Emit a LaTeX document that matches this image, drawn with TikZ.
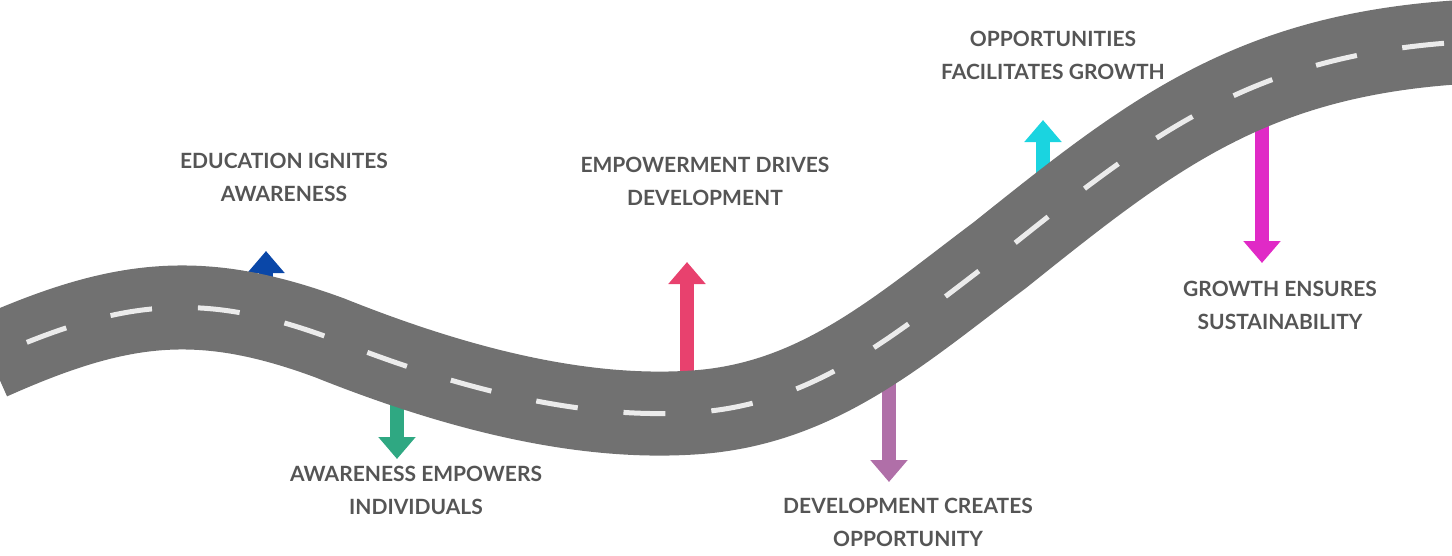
\documentclass[tikz,border=0pt]{standalone}
\usepackage{fontspec}
\setmainfont{Lato}
\usetikzlibrary{arrows.meta}
\definecolor{road}{HTML}{717171}
\definecolor{txt}{HTML}{555555}
\definecolor{cblue}{HTML}{0A47A8}
\definecolor{cgreen}{HTML}{2FA882}
\definecolor{cred}{HTML}{E8416E}
\definecolor{cpurple}{HTML}{B06FA8}
\definecolor{ccyan}{HTML}{1AD4E0}
\definecolor{cmag}{HTML}{E02AC6}
\begin{document}
\begin{tikzpicture}[x=1pt,y=-1pt,
  arr/.style={line width=14pt,-{Triangle[width=36pt,length=22pt]}},
  lbl/.style={align=center,text=txt,font=\fontsize{21}{33}\selectfont\bfseries}]
\useasboundingbox (0,0) rectangle (1452,555);
\draw[arr,cblue] (266,290) -- (266,251);
\draw[arr,cgreen] (397,390) -- (397,459);
\draw[arr,cred] (687,390) -- (687,262);
\draw[arr,cpurple] (889,380) -- (889,482);
\draw[arr,ccyan] (1043,205) -- (1043,120);
\draw[arr,cmag] (1262,120) -- (1262,263);
\def\roadpath{(-10,358) .. controls (120,300) and (200,290) .. (330,338) .. controls (480,398) and (600,420) .. (700,412) .. controls (820,402) and (900,330) .. (1000,255) .. controls (1150,135) and (1250,55) .. (1462,42)}
\draw[road,line width=84pt] \roadpath;
\draw[white!92!black,line width=5pt,dash pattern=on 42pt off 46pt,dash phase=-40pt] \roadpath;
\node[lbl] (t1) at (284,177) {EDUCATION IGNITES\\AWARENESS};
\node[lbl] (t2) at (416,490) {AWARENESS EMPOWERS\\INDIVIDUALS};
\node[lbl] (t3) at (705,181) {EMPOWERMENT DRIVES\\DEVELOPMENT};
\node[lbl] (t4) at (908,522) {DEVELOPMENT CREATES\\OPPORTUNITY};
\node[lbl] (t5) at (1053,55) {OPPORTUNITIES\\FACILITATES GROWTH};
\node[lbl] (t6) at (1280,305) {GROWTH ENSURES\\SUSTAINABILITY};
\end{tikzpicture}
\end{document}
